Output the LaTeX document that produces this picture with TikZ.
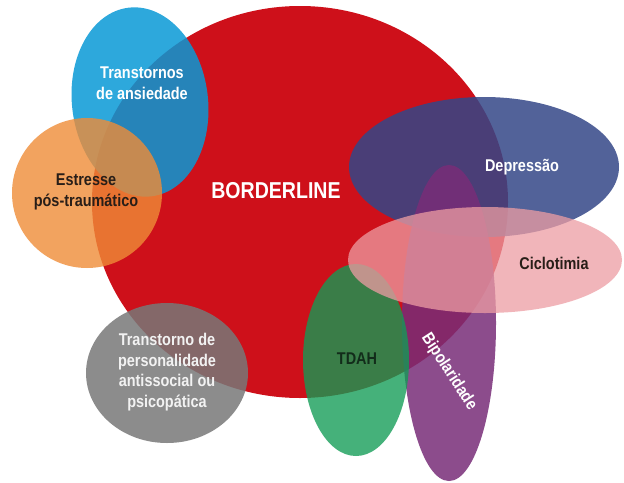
\documentclass[tikz,border=0pt]{standalone}
\usepackage{fontspec}
\setmainfont{Liberation Sans}[FakeStretch=0.85]
\definecolor{borderred}{RGB}{206,16,26}
\definecolor{ansblue}{RGB}{9,153,214}
\definecolor{ptsdorange}{RGB}{239,140,55}
\definecolor{aspgray}{RGB}{120,120,120}
\definecolor{deprblue}{RGB}{52,71,136}
\definecolor{bipurple}{RGB}{120,45,120}
\definecolor{tdahgreen}{RGB}{17,156,85}
\definecolor{cyclopink}{RGB}{237,157,163}
\definecolor{darktext}{RGB}{40,30,24}
\definecolor{tdahtext}{RGB}{18,44,26}
\definecolor{graytext}{RGB}{242,242,242}

\begin{document}
\begin{tikzpicture}[x=0.75pt,y=0.75pt,yscale=-1,xscale=1,
  blob/.style={fill opacity=0.85},
  lbl/.style={inner sep=0.75pt,align=center,font=\fontsize{12.75}{15.4}\selectfont\bfseries}]
\useasboundingbox (0,0) rectangle (624,482);
\fill [white] (0,0) rectangle (624,482);
\fill [borderred] (300,202) ellipse [x radius=208, y radius=196];
\fill [ansblue,blob,rotate around={-7:(140,102)}] (140,102) ellipse [x radius=68, y radius=95];
\fill [ptsdorange,blob,fill opacity=0.8] (87,193) ellipse [x radius=75, y radius=75];
\fill [aspgray,blob] (167,373) ellipse [x radius=81, y radius=70];
\fill [deprblue,blob] (484,167) ellipse [x radius=135, y radius=70];
\fill [bipurple,blob] (449,323) ellipse [x radius=47, y radius=158];
\fill [tdahgreen,blob,fill opacity=0.78] (356,360) ellipse [x radius=53, y radius=96];
\fill [cyclopink,blob,fill opacity=0.75] (485,260) ellipse [x radius=137, y radius=53];
\node [lbl,white] (ansl) at (142,83) {Transtornos\\de ansiedade};
\node [lbl,darktext] (ptsdl) at (86,192) {Estresse\\pós-traumático};
\node [lbl,white,font=\fontsize{17.25}{20}\selectfont\bfseries] (bordl) at (276,191) {BORDERLINE};
\node [lbl,white] (deprl) at (522,167) {Depressão};
\node [lbl,darktext] (cyclol) at (554,263) {Ciclotimia};
\node [lbl,tdahtext] (tdahl) at (357,359) {TDAH};
\node [lbl,white,rotate=-57] (bipl) at (449,372) {Bipolaridade};
\node [lbl,graytext] (aspl) at (167,372) {Transtorno de\\personalidade\\antissocial ou\\psicopática};
\end{tikzpicture}
\end{document}
